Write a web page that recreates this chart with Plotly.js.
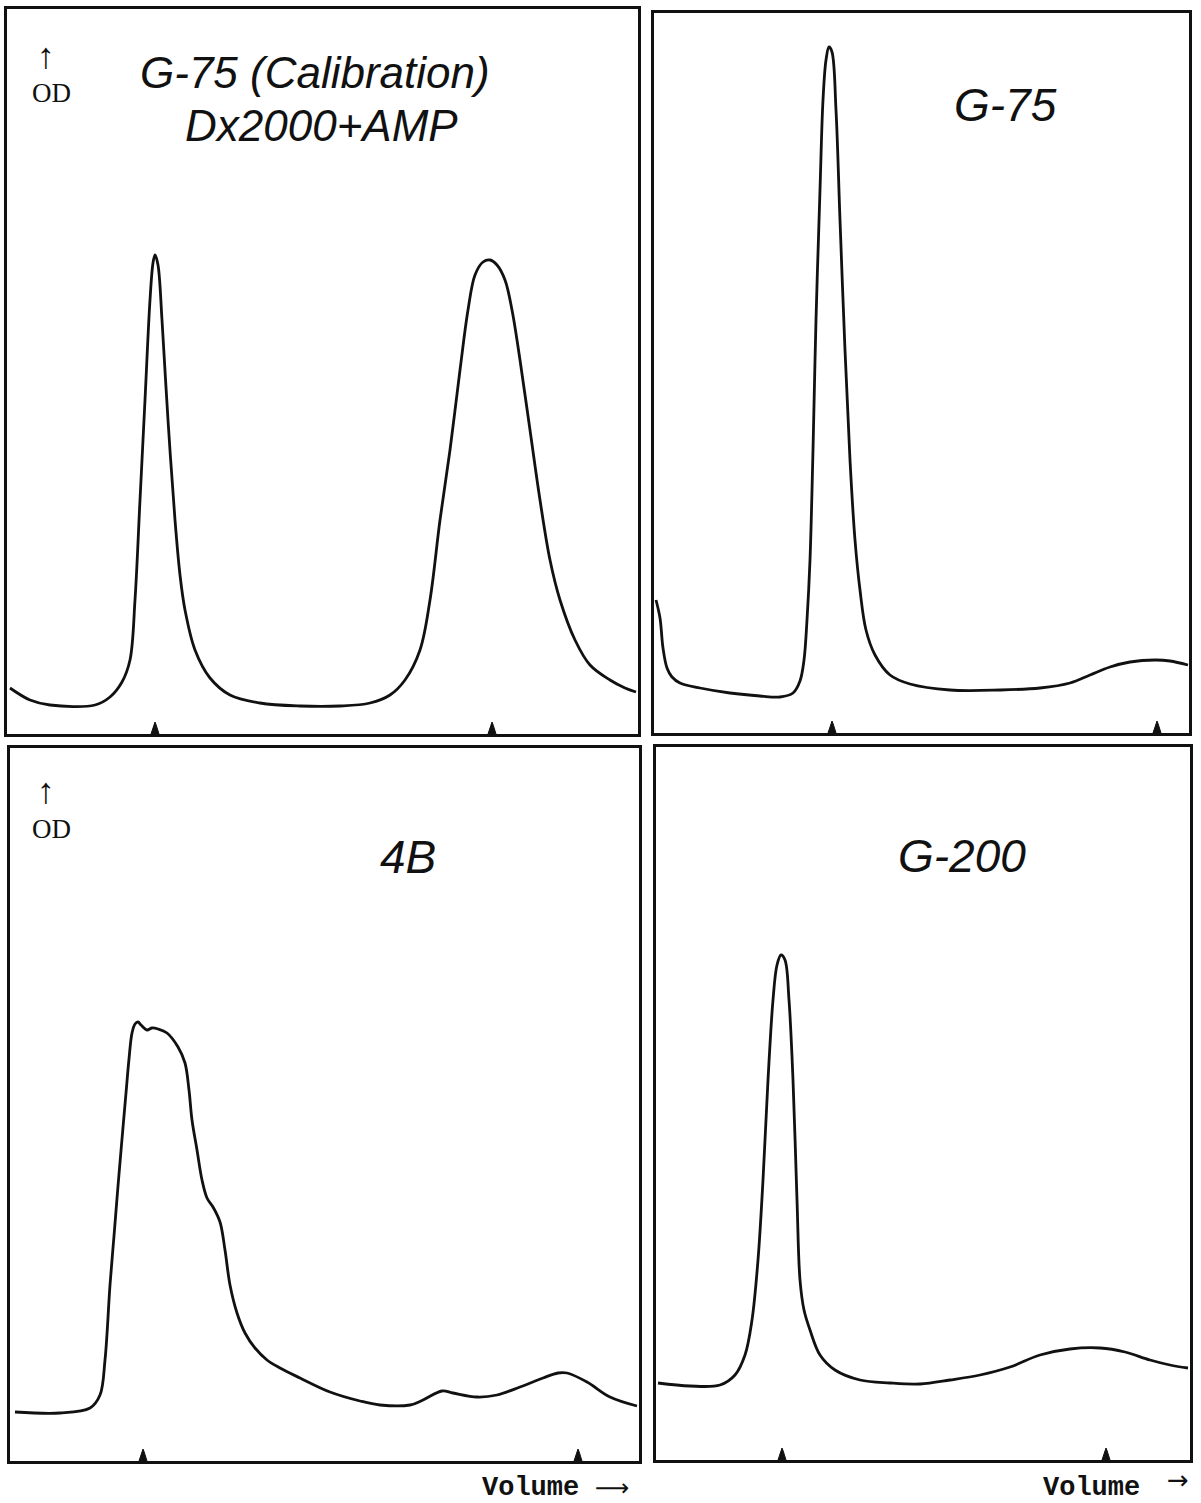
<!DOCTYPE html>
<html>
<head>
<meta charset="utf-8">
<script src="https://cdn.plot.ly/plotly-3.0.1.min.js"></script>
<style>html,body{margin:0;padding:0;background:#fff;}#chart{width:1201px;height:1503px;}</style>
</head>
<body>
<div id="chart"></div>
<script>
// ---- Data (volume in arbitrary units from panel left, OD in arbitrary units from baseline) ----
// Panel A: G-75 (Calibration) Dx2000 + AMP
const volA = [3,23,43,88,103,115,123,128,133,138,143,146,148,151,155,161,168,173,178,188,203,223,253,293,333,363,383,398,413,423,433,443,453,461,468,476,483,490,498,505,513,523,533,543,553,568,583,603,618,629];
const odA  = [46,34,29,29,37,52,74,134,234,334,434,471,479,469,414,314,214,159,124,84,56,39,31,28,28,31,39,54,84,134,214,284,364,424,459,472,474,469,454,424,374,304,234,174,134,94,69,54,46,42];
const ticksA = [148,485];

// Panel B: G-75
const volB = [2,6,9,13,18,26,46,76,106,126,139,146,150,153,156,159,162,166,169,172,175,178,182,186,191,196,201,206,212,221,236,256,296,346,386,416,436,456,476,501,516,534];
const odB  = [133,115,85,65,56,50,45,40,37,36,40,52,73,113,173,283,413,543,633,673,686,681,623,513,383,273,193,143,103,78,58,49,43,43,45,50,58,66,71,73,72,68];
const ticksB = [178,503];

// Panel C: 4B
const volC = [5,50,80,90,95,100,104,108,112,116,119,122,125,128,131,137,142,148,157,168,175,179,182,187,192,197,203,210,215,220,227,235,245,257,270,290,320,350,370,400,413,432,443,467,487,510,533,548,557,577,600,627];
const odC  = [49,48,53,66,101,176,225,275,322,368,402,428,437,439,436,431,433,432,428,414,398,371,341,311,281,263,254,239,211,176,148,128,113,101,93,83,69,60,56,56,61,70,68,64,66,74,83,88,88,79,64,55];
const ticksC = [133,568];

// Panel D: G-200
const volD = [2,34,64,79,89,96,102,107,112,117,121,125,129,133,137,141,144,148,154,164,179,204,234,264,294,324,354,384,414,444,469,494,514,532];
const odD  = [77,74,75,85,105,140,200,280,380,460,495,505,500,460,380,260,180,150,130,105,90,80,77,76,80,85,93,105,111,112,108,100,95,92];
const ticksD = [126,450];

// Panel geometry in page pixels: [left, right, top, bottom]
const W = 1201, H = 1503;
const panels = [
  {box:[7,638,9,734],    vol:volA, od:odA, ticks:ticksA},
  {box:[654,1189,13,733],vol:volB, od:odB, ticks:ticksB},
  {box:[10,639,748,1461],vol:volC, od:odC, ticks:ticksC},
  {box:[656,1190,747,1460],vol:volD, od:odD, ticks:ticksD}
];

const traces = [];
const layout = {
  width: W, height: H, autosize: false,
  margin: {l:0, r:0, t:0, b:0},
  paper_bgcolor: '#ffffff', plot_bgcolor: '#ffffff',
  showlegend: false,
  annotations: []
};

panels.forEach((p, i) => {
  const n = i === 0 ? '' : String(i + 1);
  const [l, r, t, b] = p.box;
  const xa = 'xaxis' + n, ya = 'yaxis' + n;
  const axBase = {showline:true, mirror:true, linecolor:'#111', linewidth:3,
    showgrid:false, zeroline:false, ticks:'', showticklabels:false, fixedrange:true};
  layout[xa] = Object.assign({}, axBase, {domain:[l/W, r/W], range:[0, r-l], anchor:'y'+n});
  layout[ya] = Object.assign({}, axBase, {domain:[1-b/H, 1-t/H], range:[0, b-t], anchor:'x'+n});
  traces.push({
    type:'scatter', mode:'lines', x:p.vol, y:p.od, xaxis:'x'+n, yaxis:'y'+n,
    line:{color:'#111', width:2.8, shape:'spline', smoothing:1.0}, hoverinfo:'skip'
  });
  p.ticks.forEach(tk => {
    traces.push({
      type:'scatter', mode:'lines', x:[tk-4, tk-1.2, tk, tk+1.2, tk+4], y:[0, 9, 12, 9, 0],
      xaxis:'x'+n, yaxis:'y'+n, fill:'toself', fillcolor:'#111',
      line:{color:'#111', width:1}, hoverinfo:'skip'
    });
  });
});

function ann(text, px, py, size, family, extra) {
  layout.annotations.push(Object.assign({
    text: text, x: px/W, y: 1 - py/H, xref:'paper', yref:'paper',
    xanchor:'center', yanchor:'middle', showarrow:false, borderpad:0,
    font:{size:size, family:family, color:'#111'}
  }, extra || {}));
}
const hand = 'Liberation Sans, Arial, sans-serif';
const mono = 'Liberation Mono, Courier New, monospace';
const serif = 'Liberation Serif, Times New Roman, serif';
const sym = 'DejaVu Sans, sans-serif';

ann('<i>G-75 (Calibration)</i>', 315, 72, 44, hand);
ann('<i>Dx2000+AMP</i>', 322, 126, 44, hand);
ann('<i>G-75</i>', 1005, 105, 46, hand);
ann('<i>4B</i>', 408, 857, 46, hand);
ann('<i>G-200</i>', 962, 856, 46, hand);

ann('↑', 46, 56, 36, serif);
ann('OD', 51, 93, 27, serif);
ann('↑', 46, 791, 36, serif);
ann('OD', 51, 829, 27, serif);

ann('<b>Volume</b>', 530, 1488, 27, mono);
ann('⟶', 612, 1488, 24, sym);
ann('<b>Volume</b>', 1091, 1488, 27, mono);
ann('→', 1178, 1480, 26, sym);

Plotly.newPlot('chart', traces, layout, {staticPlot:true, displayModeBar:false});
</script>
</body>
</html>
